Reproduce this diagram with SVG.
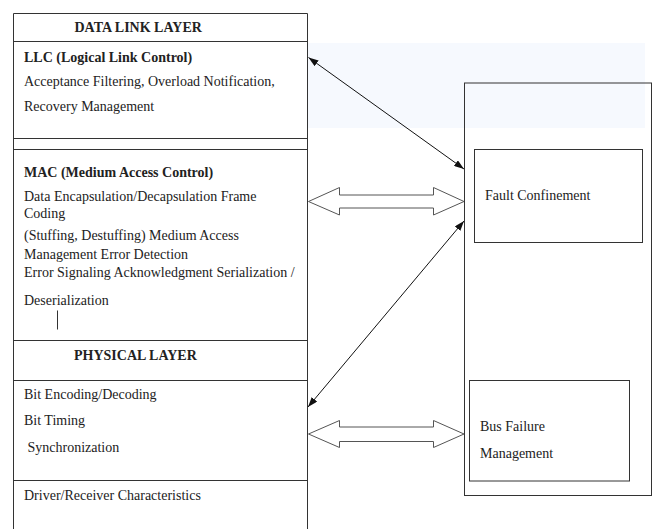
<svg xmlns="http://www.w3.org/2000/svg" width="656" height="529" viewBox="0 0 656 529">
<defs>
<style>
text{font-family:"Liberation Serif","Times New Roman",serif;font-size:14px;fill:#222}
.b{font-weight:bold}
.box{fill:none;stroke:#333;stroke-width:1}
.div{stroke:#333;stroke-width:1}
.ln{stroke:#111;stroke-width:1;fill:none}
.blk{fill:#fff;stroke:#555;stroke-width:1}
</style>
<marker id="ah" viewBox="0 0 10 7" refX="10" refY="3.5" markerWidth="10" markerHeight="7" markerUnits="userSpaceOnUse" orient="auto-start-reverse">
<path d="M0,0 L10,3.5 L0,7 z" fill="#111"/>
</marker>
</defs>
<rect x="0" y="0" width="656" height="529" fill="#fff"/>
<rect x="307" y="43" width="338" height="85" fill="#f6f9fe"/>

<g id="data-link-layer">
<path class="box" d="M13.5,529 V13.5 H307.5 V529"/>
<line class="div" x1="13.5" y1="41.5" x2="307.5" y2="41.5"/>
<text class="b" x="74.5" y="31.5">DATA LINK LAYER</text>
</g>

<g id="llc">
<text class="b" x="24" y="62">LLC (Logical Link Control)</text>
<text x="24" y="86">Acceptance Filtering, Overload Notification,</text>
<text x="24" y="111">Recovery Management</text>
<line class="div" x1="13.5" y1="138.5" x2="307.5" y2="138.5"/>
</g>

<g id="mac">
<line class="div" x1="13.5" y1="149.5" x2="307.5" y2="149.5"/>
<text class="b" x="24" y="176.5">MAC (Medium Access Control)</text>
<text x="24" y="200.5">Data Encapsulation/Decapsulation Frame</text>
<text x="24" y="218">Coding</text>
<text x="24" y="240">(Stuffing, Destuffing) Medium Access</text>
<text x="24" y="259">Management Error Detection</text>
<text x="24" y="276.5">Error Signaling Acknowledgment Serialization /</text>
<text x="24" y="305">Deserialization</text>
<line class="div" x1="57.5" y1="310.5" x2="57.5" y2="329.5"/>
</g>

<g id="physical-layer">
<line class="div" x1="13.5" y1="340.5" x2="307.5" y2="340.5"/>
<text class="b" x="74" y="359.5">PHYSICAL LAYER</text>
<line class="div" x1="13.5" y1="380.5" x2="307.5" y2="380.5"/>
<text x="24" y="398.5">Bit Encoding/Decoding</text>
<text x="24" y="424.5">Bit Timing</text>
<text x="27.5" y="452">Synchronization</text>
<line class="div" x1="13.5" y1="480.5" x2="307.5" y2="480.5"/>
<text x="24" y="499.5">Driver/Receiver Characteristics</text>
</g>

<g id="error-management">
<rect class="box" x="464.5" y="83" width="187" height="412.5"/>
</g>

<g id="fault-confinement">
<rect class="box" x="474.5" y="149.5" width="168" height="93"/>
<text x="485" y="200">Fault Confinement</text>
</g>

<g id="bus-failure-management">
<rect class="box" x="469.5" y="380.5" width="160" height="100.5"/>
<text x="480" y="431">Bus Failure</text>
<text x="480" y="457.5">Management</text>
</g>

<g id="connectors">
<line class="ln" x1="308.5" y1="57.5" x2="464" y2="169" marker-start="url(#ah)" marker-end="url(#ah)"/>
<line class="ln" x1="464" y1="221" x2="308" y2="407" marker-start="url(#ah)" marker-end="url(#ah)"/>
<path class="blk" d="M308.5,201.5 L339.5,187.5 V195 H433.5 V187.5 L464,201.5 L433.5,215 V208 H339.5 V215 Z"/>
<path class="blk" d="M308.5,434 L339.5,420.5 V427 H433.5 V420.5 L464,434 L433.5,447.5 V441.5 H339.5 V447.5 Z"/>
</g>
</svg>
